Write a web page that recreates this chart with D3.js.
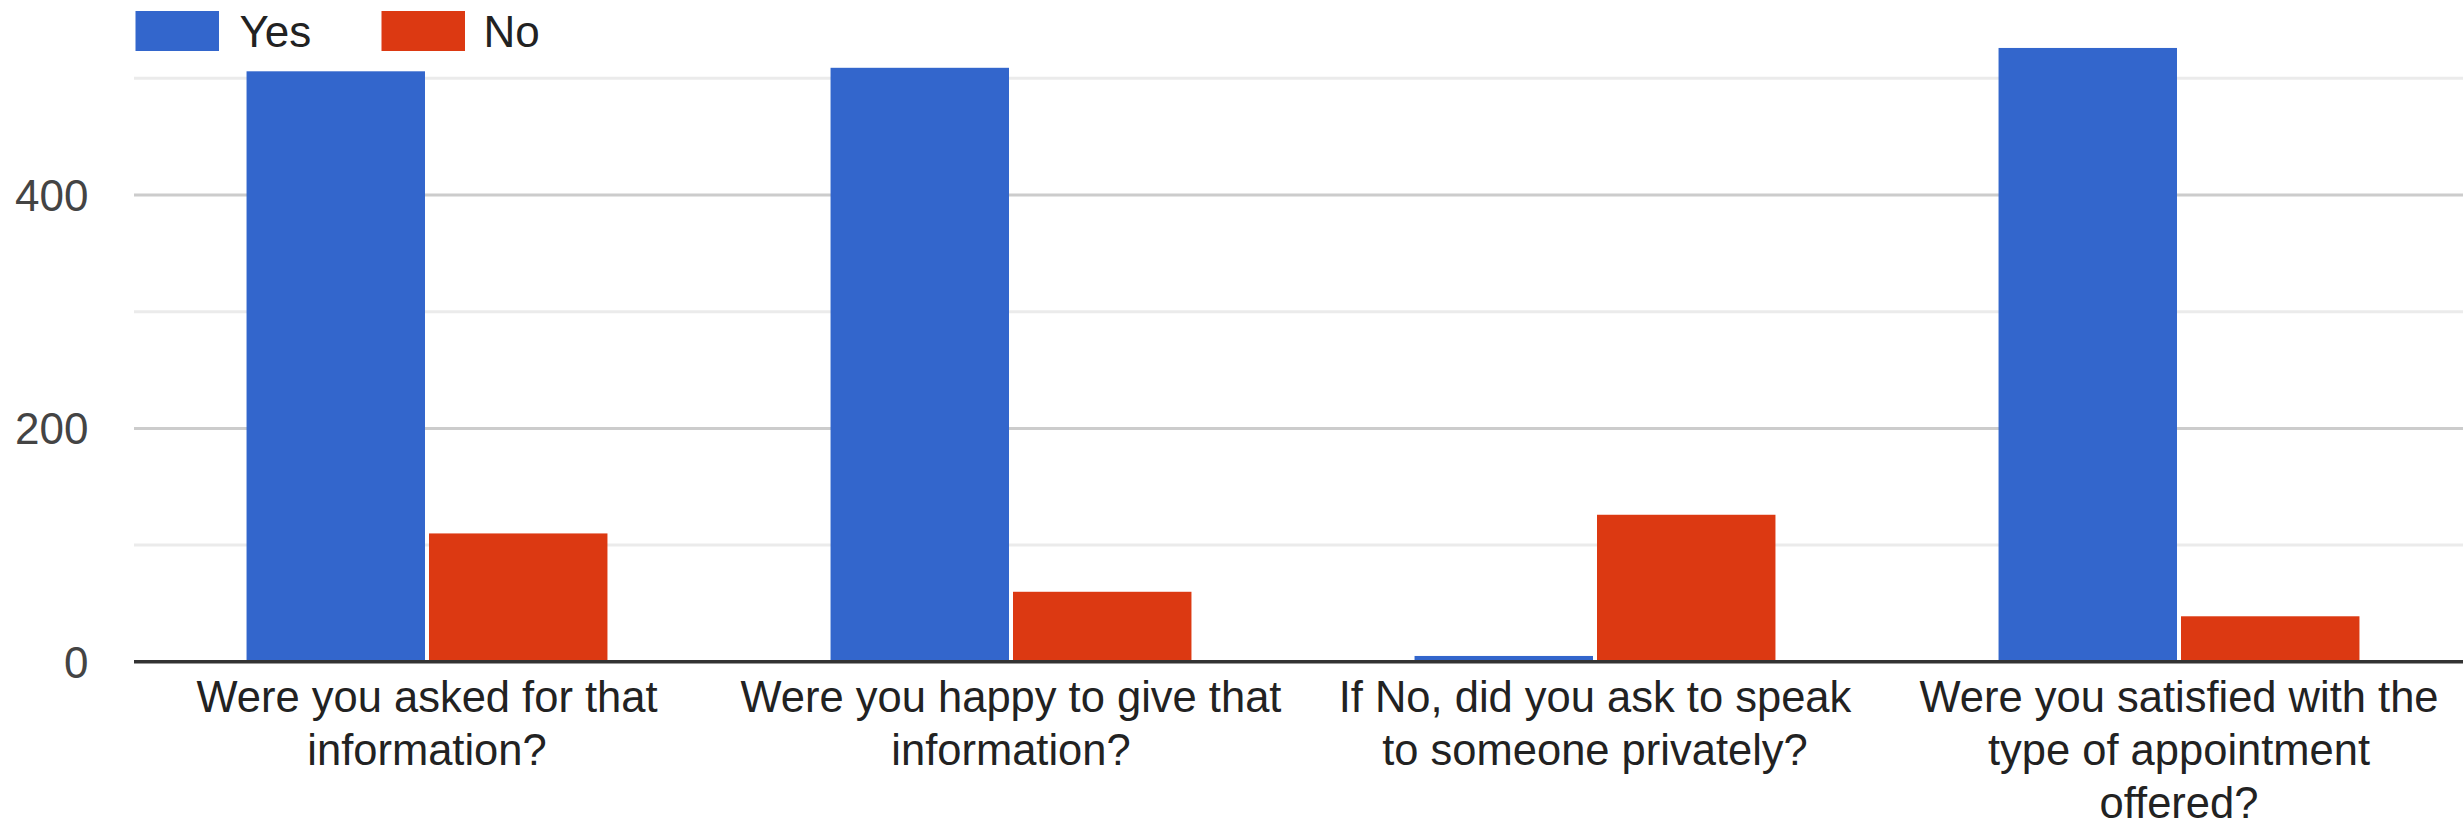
<!DOCTYPE html>
<html>
<head>
<meta charset="utf-8">
<script src="https://cdn.jsdelivr.net/npm/d3@7"></script>
<style>
  html, body { margin: 0; padding: 0; background: #fff; }
  svg { display: block; }
  text { font-family: "Liberation Sans", Arial, sans-serif; }
</style>
</head>
<body>
<svg id="chart" width="2463" height="828"></svg>
<script>
const categories = [
  ["Were you asked for that", "information?"],
  ["Were you happy to give that", "information?"],
  ["If No, did you ask to speak", "to someone privately?"],
  ["Were you satisfied with the", "type of appointment", "offered?"]
];
const seriesNames = ["Yes", "No"];
const yesValues = [506, 509, 5, 526];
const noValues = [110, 60, 126, 39];
const yTickLabels = [0, 200, 400];
const yGridValues = [0, 100, 200, 300, 400, 500];
const colors = ["#3366cc", "#dc3912"];

const svg = d3.select("#chart");
const W = 2463, H = 828;
const left = 135, right = 2471, base = 661.8, top500 = 78.3;
const fontSize = 43.5;

const catIdx = categories.map((_, i) => i);
const x0 = d3.scaleBand().domain(catIdx).range([left, right]).paddingInner(0.382).paddingOuter(0.191);
const x1 = d3.scaleBand().domain(seriesNames).range([0, x0.bandwidth()]).paddingInner(0.022);
const y = d3.scaleLinear().domain([0, 500]).range([base, top500]);
const color = d3.scaleOrdinal().domain(seriesNames).range(colors);

// gridlines
svg.append("g").selectAll("line").data(yGridValues.filter(v => v !== 0)).join("line")
  .attr("x1", left - 1).attr("x2", W)
  .attr("y1", d => y(d)).attr("y2", d => y(d))
  .attr("stroke", d => d % 200 === 0 ? "#cccccc" : "#ebebeb")
  .attr("stroke-width", 3);

// y axis labels
const yAxis = d3.axisLeft(y).tickValues(yTickLabels).tickSize(0).tickPadding(0).tickFormat(d3.format("d"));
const yg = svg.append("g").attr("transform", `translate(${88.5},0)`).call(yAxis);
yg.select(".domain").remove();
yg.selectAll("text").attr("font-size", 44).attr("fill", "#444444")
  .attr("font-family", '"Liberation Sans", Arial, sans-serif').attr("dy", "0.35em");

// bars
const rows = catIdx.map(i => ({ i, vals: [{ k: "Yes", v: yesValues[i] }, { k: "No", v: noValues[i] }] }));
svg.append("g").selectAll("g").data(rows).join("g")
  .attr("transform", d => `translate(${x0(d.i)},0)`)
  .selectAll("rect").data(d => d.vals).join("rect")
  .attr("x", d => x1(d.k)).attr("width", x1.bandwidth())
  .attr("y", d => y(d.v)).attr("height", d => y(0) - y(d.v))
  .attr("fill", d => color(d.k));

// baseline
svg.append("line").attr("x1", left - 1).attr("x2", W).attr("y1", y(0)).attr("y2", y(0))
  .attr("stroke", "#333333").attr("stroke-width", 3.5);

// x labels
const xl = svg.append("g").selectAll("text").data(rows).join("text")
  .attr("x", d => x0(d.i) + x0.bandwidth() / 2)
  .attr("y", 712)
  .attr("text-anchor", "middle").attr("font-size", fontSize).attr("fill", "#222222");
xl.selectAll("tspan").data(d => categories[d.i]).join("tspan")
  .attr("x", function() { return this.parentNode.getAttribute("x"); })
  .attr("dy", (d, j) => j === 0 ? 0 : 53)
  .text(d => d);

// legend
const legendX = [135.5, 381.5];
const lg = svg.append("g").selectAll("g").data(seriesNames).join("g")
  .attr("transform", (d, i) => `translate(${legendX[i]},11)`);
lg.append("rect").attr("width", 83.5).attr("height", 40).attr("fill", d => color(d));
lg.append("text").attr("x", (d, i) => i === 0 ? 104 : 102).attr("y", 35.7)
  .attr("font-size", 44).attr("fill", "#222222").text(d => d);
</script>
</body>
</html>
